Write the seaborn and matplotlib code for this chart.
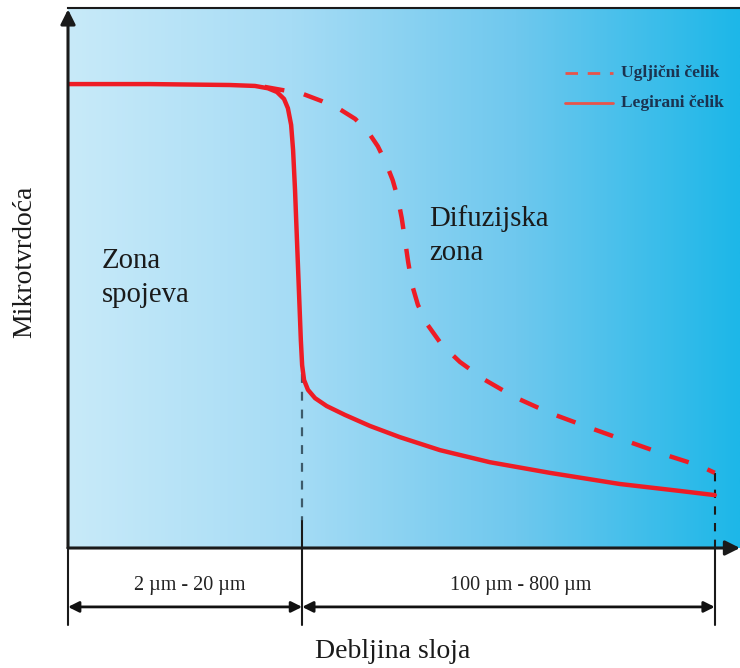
import numpy as np
import pandas as pd
import matplotlib
matplotlib.use("Agg")
import matplotlib.pyplot as plt
from matplotlib.colors import LinearSegmentedColormap
import seaborn as sns

sns.set_style("white")
plt.rcParams['font.family'] = ['Liberation Serif', 'DejaVu Serif']

# legirani celik (solid) - relative depth vs relative microhardness
leg_x = [0, 12.7, 25.0, 28.9, 30.9, 32.3, 33.4, 34.0, 34.5, 34.8, 35.1, 35.4, 35.7, 36.0,
         36.2, 36.5, 37.1, 38.2, 40.0, 42.8, 46.7, 51.3, 57.5, 65.2, 74.5, 85.3, 94.6, 100]
leg_y = [100.0, 100.0, 99.8, 99.6, 99.1, 98.3, 96.8, 94.8, 91.2, 85.8, 77.2, 66.4, 55.6, 44.8,
         39.4, 36.2, 34.1, 32.3, 30.6, 28.7, 26.3, 23.9, 21.1, 18.5, 16.2, 13.8, 12.3, 11.4]

# ugljicni celik (dashed)
ug_x = [30.4, 33.2, 35.9, 39.3, 42.0, 44.4, 46.4, 47.9, 49.1, 50.2, 51.0, 51.6, 52.1, 52.6,
        53.2, 54.1, 55.6, 57.8, 60.6, 64.5, 69.1, 74.5, 80.7, 86.9, 93.0, 97.7, 100]
ug_y = [99.4, 98.7, 98.1, 96.3, 94.6, 92.5, 89.7, 86.6, 83.2, 79.3, 75.4, 71.1, 66.4, 61.6,
        56.7, 52.4, 48.1, 43.8, 40.1, 36.2, 32.5, 29.1, 25.9, 22.8, 19.8, 17.7, 16.2]

zone_edges = [0, 36.2, 100]
zone_labels = ["2 µm - 20 µm", "100 µm - 800 µm"]
zone_label_x = [18.9, 70.0]
legend_labels = ["Ugljični čelik", "Legirani čelik"]

red = "#ee1c25"
xmax, ymax = 103.9, 116.4

fig = plt.figure(figsize=(7.4, 6.68), dpi=100)
ax = fig.add_axes([68/740, 120/668, 672/740, 540/668])

# background gradient
cmap = LinearSegmentedColormap.from_list("bg", ["#c8eaf9", "#a6dcf5", "#6fc8ee", "#1db7e8"])
grad = np.linspace(0, 1, 256).reshape(1, -1)
ax.imshow(grad, cmap=cmap, extent=(0, xmax, 0, ymax), aspect="auto", zorder=0)

df_leg = pd.DataFrame({"x": leg_x, "y": leg_y})
df_ug = pd.DataFrame({"x": ug_x, "y": ug_y})
sns.lineplot(data=df_leg, x="x", y="y", ax=ax, color=red, lw=3.2, sort=False,
             estimator=None, zorder=3)
sns.lineplot(data=df_ug, x="x", y="y", ax=ax, color=red, lw=3.2, sort=False,
             estimator=None, zorder=3, dashes=False)
ax.lines[-1].set_dashes([4.5, 4.5])

ax.set_xlim(0, xmax)
ax.set_ylim(0, ymax)
ax.set_xticks([])
ax.set_yticks([])
ax.set_xlabel("")
ax.set_ylabel("")
for s in ["right", "bottom", "left"]:
    ax.spines[s].set_visible(False)
ax.spines["top"].set_linewidth(1.5)
ax.spines["top"].set_color("#1a1a1a")

# guide lines
ax.plot([zone_edges[1]] * 2, [leg_y[14] - 2, 5.8], color="#3d5a6a", lw=1.6, ls=(0, (4, 4)), zorder=2)
ax.plot([zone_edges[2]] * 2, [ug_y[-1], 0], color="#1a1a1a", lw=1.5, ls=(0, (4, 4)), zorder=2)
ax.plot([zone_edges[1]] * 2, [5.8, -16.6], color="#1a1a1a", lw=1.5, clip_on=False)
ax.plot([zone_edges[2]] * 2, [0, -16.6], color="#1a1a1a", lw=1.5, clip_on=False)
ax.plot([zone_edges[0]] * 2, [0, -16.6], color="#1a1a1a", lw=1.5, clip_on=False)

# axis arrows
ax.annotate("", xy=(xmax, 0), xytext=(0, 0), annotation_clip=False,
            arrowprops=dict(arrowstyle="-|>", lw=2.2, color="#1a1a1a", mutation_scale=22,
                            shrinkA=0, shrinkB=0))
ax.annotate("", xy=(0, ymax - 0.3), xytext=(0, 0), annotation_clip=False,
            arrowprops=dict(arrowstyle="-|>", lw=2.2, color="#1a1a1a", mutation_scale=22,
                            shrinkA=0, shrinkB=0))

# dimension arrows
for a, b, lx, lab in zip(zone_edges[:-1], zone_edges[1:], zone_label_x, zone_labels):
    ax.annotate("", xy=(b, -12.7), xytext=(a, -12.7), annotation_clip=False,
                arrowprops=dict(arrowstyle="<|-|>", lw=2, color="#111111", mutation_scale=16,
                                shrinkA=0, shrinkB=0))
    ax.text(lx, -8.0, lab, ha="center", va="center", fontsize=14.5, color="#222222",
            clip_on=False)

# zone labels
ax.text(5.2, 58.2, "Zona\nspojeva", fontsize=20.7, color="#1a1a1a", va="center", ha="left",
        linespacing=1.42)
ax.text(55.9, 67.4, "Difuzijska\nzona", fontsize=20.7, color="#1a1a1a", va="center", ha="left",
        linespacing=1.38)

# legend
ax.plot([76.8, 84.3], [102.4, 102.4], color="#e8544a", lw=2, ls=(0, (4.5, 3.5)))
ax.plot([76.8, 84.3], [95.9, 95.9], color="#e8544a", lw=2)
ax.text(85.5, 102.4, legend_labels[0], fontsize=12.5, color="#1b3350", va="center",
        fontweight="bold")
ax.text(85.5, 95.9, legend_labels[1], fontsize=12.5, color="#1b3350", va="center",
        fontweight="bold")

fig.text(393/740, 1 - 652/668, "Debljina sloja", fontsize=20, ha="center", va="center",
         color="#1a1a1a")
fig.text(25/740, 1 - 262/668, "Mikrotvrdoća", fontsize=20, ha="center", va="center",
         rotation=90, color="#1a1a1a")

fig.savefig("out.png", dpi=100)
